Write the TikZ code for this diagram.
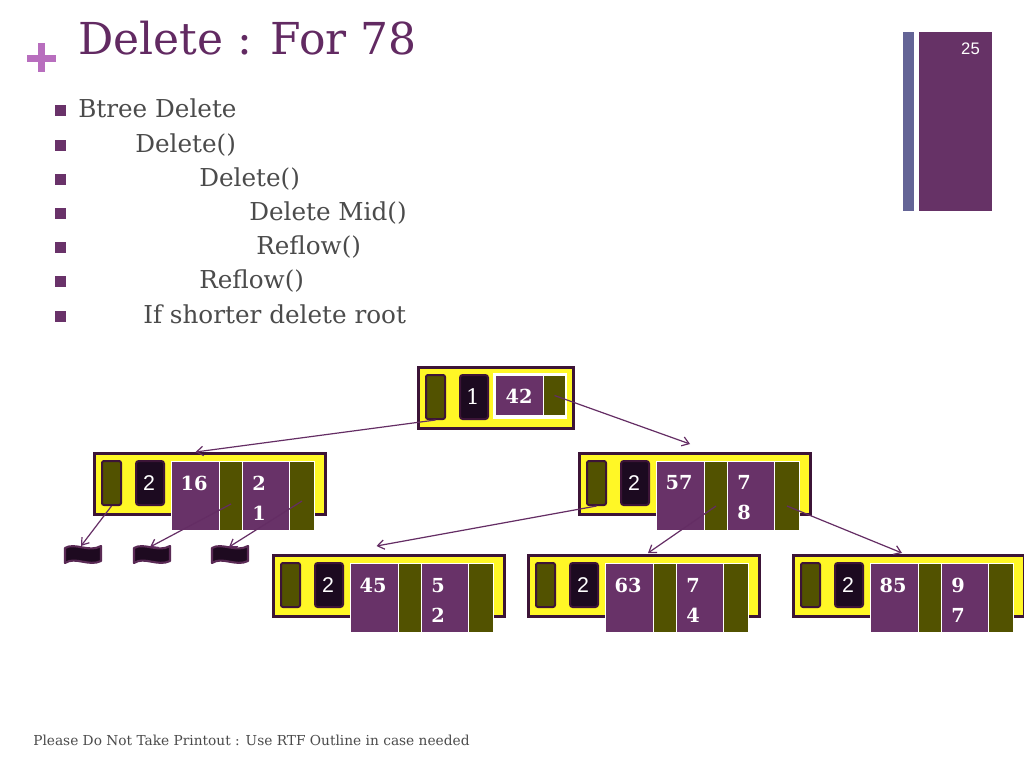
\documentclass[tikz,border=0pt]{standalone}
\usepackage{fontspec}
\setmainfont{DejaVu Serif}
\newfontfamily\sansf{Liberation Sans}
\usetikzlibrary{arrows.meta,calc}
\definecolor{yellowc}{RGB}{255,247,38}
\definecolor{borderc}{RGB}{60,20,55}
\definecolor{olivec}{RGB}{82,82,0}
\definecolor{darkc}{RGB}{28,10,32}
\definecolor{purplec}{RGB}{104,50,104}
\definecolor{arrowc}{RGB}{100,45,100}
\definecolor{titlec}{RGB}{98,42,98}
\definecolor{plusc}{RGB}{184,110,190}
\definecolor{textc}{RGB}{75,75,75}
\definecolor{bulletc}{RGB}{105,50,105}
\definecolor{barblue}{RGB}{100,100,150}
\definecolor{barpurple}{RGB}{102,50,102}
\definecolor{wavec}{RGB}{30,10,32}
\definecolor{waveedge}{RGB}{90,42,85}
\tikzset{
  outerbox/.style={draw=borderc, line width=2.25pt, fill=yellowc, anchor=north west, inner sep=0pt},
  olivesm/.style={fill=olivec, draw=borderc, line width=1.5pt, rounded corners=1.5pt, anchor=north west, inner sep=0pt, minimum width=19*0.75pt, minimum height=44*0.75pt},
  darkbox/.style={fill=darkc, draw=borderc, line width=1.5pt, rounded corners=2pt, anchor=north west, inner sep=0pt, minimum width=28*0.75pt, minimum height=44*0.75pt},
  keybox/.style={fill=purplec, draw=white, line width=0.75pt, anchor=north west, inner sep=0pt},
  olivebig/.style={fill=olivec, draw=white, line width=0.75pt, anchor=north west, inner sep=0pt},
  keytext/.style={text=white, font=\fontsize{14.5}{22.5}\selectfont\bfseries, inner sep=0pt, align=center},
  cnttext/.style={text=white, font=\sansf\fontsize{16}{18}\selectfont, inner sep=0pt},
  arr/.style={draw=arrowc, line width=0.9pt, -{Straight Barb[length=5pt,width=7pt]}},
  bullettext/.style={text=textc, font=\fontsize{18.5}{20}\selectfont, anchor=base west, inner sep=0pt},
  bulletsq/.style={fill=bulletc, draw=none, minimum size=11*0.75pt, inner sep=0pt},
  wave/.pic={
    \draw[fill=wavec, draw=waveedge, line width=1.6pt, line join=round]
      (0,3) .. controls (10,-3) and (24,8) .. (36,1)
      -- (36,16) .. controls (24,22) and (10,11) .. (0,18) -- cycle;
  }
}
\newcommand\btnode[6]{%
  \pgfmathsetmacro\X{#2}\pgfmathsetmacro\Y{#3}
  \node[outerbox, minimum width=231*0.75pt, minimum height=61*0.75pt] (#1) at (\X,\Y) {};
  \node[olivesm] (#1-o1) at (\X+8,\Y+8) {};
  \node[darkbox] (#1-c) at (\X+42,\Y+8) {};
  \node[keybox, minimum width=48*0.75pt, minimum height=69*0.75pt] (#1-k1) at (\X+78,\Y+9) {};
  \node[olivebig, minimum width=23*0.75pt, minimum height=69*0.75pt] (#1-o2) at (\X+126,\Y+9) {};
  \node[keybox, minimum width=47*0.75pt, minimum height=69*0.75pt] (#1-k2) at (\X+149,\Y+9) {};
  \node[olivebig, minimum width=25*0.75pt, minimum height=69*0.75pt] (#1-o3) at (\X+196,\Y+9) {};
  \node[cnttext] (#1-ct) at (\X+56,\Y+31) {#4};
  \node[keytext] (#1-t1) at (\X+101,\Y+31) {#5};
  \node[keytext] (#1-t2) at (\X+166,\Y+46) {#6};
}
\begin{document}
\begin{tikzpicture}[x=0.75pt,y=-0.75pt]
\useasboundingbox (0,0) rectangle (1024,768);
\fill[white] (0,0) rectangle (1024,768);

% plus sign
\fill[plusc] (27,55) rectangle (56,62);
\fill[plusc] (38,43) rectangle (45,72);

% title
\node[text=titlec, font=\fontsize{33}{36}\selectfont, anchor=base west, inner sep=0pt] (title) at (78,54) {Delete : For 78};

% right bars
\fill[barblue] (903,32) rectangle (914,211);
\fill[barpurple] (919,32) rectangle (992,211);
\node[text=white, font=\sansf\fontsize{12.5}{14}\selectfont, inner sep=0pt] (pg) at (970.5,48.5) {25};

% bullets
\foreach \yy/\xx/\tt [count=\i] in {117/78/Btree Delete, 152/135/Delete(), 186/199/Delete(), 220/249/Delete Mid(), 254/256/Reflow(), 288/199/Reflow(), 323/143/If shorter delete root}{
  \node[bulletsq] (b\i) at (60.5,\yy-6.5) {};
  \node[bullettext] (l\i) at (\xx,\yy) {\tt};
}

% footer
\node[text=textc, font=\fontsize{10.3}{12}\selectfont, anchor=base west, inner sep=0pt] (foot) at (33,745) {Please Do Not Take Printout : Use RTF Outline in case needed};

% root node
\node[outerbox, minimum width=155*0.75pt, minimum height=61*0.75pt] (root) at (417,366) {};
\node[olivesm] (root-o1) at (425,374) {};
\node[darkbox] (root-c) at (459,374) {};
\fill[white] (493,373) rectangle (567,419);
\node[keybox, minimum width=48*0.75pt, minimum height=40*0.75pt] (root-k1) at (495,375) {};
\node[olivebig, minimum width=22*0.75pt, minimum height=40*0.75pt] (root-o2) at (543,375) {};
\node[text=white, font=\fontsize{16}{18}\selectfont, inner sep=0pt] (root-ct) at (473,397) {1};
\node[keytext] (root-t1) at (519,396) {42};

% level 1
\btnode{L}{93}{452}{2}{16}{2\\1}
\btnode{R}{578}{452}{2}{57}{7\\8}
% level 2
\btnode{A}{272}{554}{2}{45}{5\\2}
\btnode{B}{527}{554}{2}{63}{7\\4}
\btnode{C}{792}{554}{2}{85}{9\\7}

% null pointers
\pic at (65,545) {wave};
\pic at (134,545) {wave};
\pic at (212,545) {wave};
\coordinate (t1) at (81,546);
\coordinate (t2) at (150,547);
\coordinate (t3) at (229,547);

% connectors
\draw[arr] (root-o1.south) -- (L-k1.north |- L.north);
\draw[arr] (root-o2.center) -- ($(R.north west)+(112,-8)$);
\draw[arr] (L-o1.south) -- (t1);
\draw[arr] ($(L-o2.center)+(0,8)$) -- (t2);
\draw[arr] ($(L-o3.center)+(0,5)$) -- (t3);
\draw[arr] (R-o1.south) -- ($(A-k1.north |- A.north)+(2,-8)$);
\draw[arr] ($(R-o2.center)+(0,10)$) -- ($(B.north west)+(121,-1)$);
\draw[arr] ($(R-o3.center)+(0,10)$) -- ($(C.north west)+(110,-1)$);
\end{tikzpicture}
\end{document}
